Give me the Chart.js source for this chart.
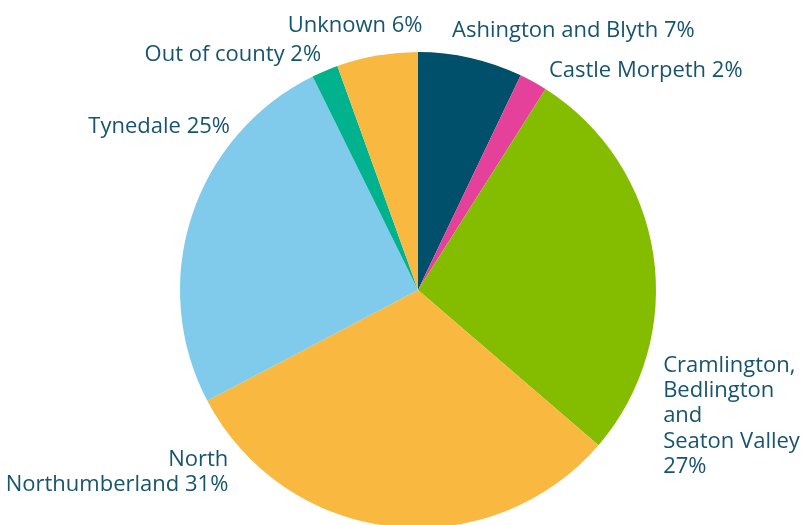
<!DOCTYPE html>
<html lang="en">
<head>
  <meta charset="UTF-8">
  <title>Pie chart by locality</title>
  <script src="https://cdn.jsdelivr.net/npm/chart.js"></script>
  <style>
    html, body { margin: 0; padding: 0; background: #fff; overflow: hidden; }
    #wrap { width: 812px; height: 525px; overflow: hidden; }
  </style>
</head>
<body>
  <div id="wrap">
    <canvas id="grafico" width="812" height="560"></canvas>
  </div>

  <script>
    // Datos
    const categorias = [
      'Ashington and Blyth',
      'Castle Morpeth',
      'Cramlington, Bedlington and Seaton Valley',
      'North Northumberland',
      'Tynedale',
      'Out of county',
      'Unknown'
    ];
    const valores = [7.1, 1.9, 27.3, 31.0, 25.4, 1.8, 5.5];
    const etiquetas = [
      ['Ashington and Blyth 7%'],
      ['Castle Morpeth 2%'],
      ['Cramlington,', 'Bedlington', 'and', 'Seaton Valley', '27%'],
      ['North', 'Northumberland 31%'],
      ['Tynedale 25%'],
      ['Out of county 2%'],
      ['Unknown 6%']
    ];
    const colores = ['#004f6b', '#e6419a', '#84bd00', '#f9b83f', '#80cbeb', '#00b28d', '#f9b83f'];

    // posicion de cada etiqueta, relativa al centro del pastel (en radios)
    // [x, y de la primera linea base, alineacion]
    const posEtiquetas = [
      [0.143, -1.062, 'left'],
      [0.550, -0.897, 'left'],
      [1.030, 0.343, 'left'],
      [-0.797, 0.739, 'right'],
      [-0.790, -0.658, 'right'],
      [-0.407, -0.963, 'right'],
      [0.019, -1.085, 'right']
    ];

    const etiquetasPlugin = {
      id: 'etiquetas',
      afterDatasetsDraw(chart) {
        const ctx = chart.ctx;
        const arcs = chart.getDatasetMeta(0).data;
        ctx.save();
        ctx.font = '22px "Open Sans", sans-serif';
        ctx.fillStyle = '#17546e';
        ctx.textBaseline = 'alphabetic';
        arcs.forEach((arc, i) => {
          const r = arc.outerRadius;
          const p = posEtiquetas[i];
          const x = arc.x + p[0] * r;
          const y = arc.y + p[1] * r;
          ctx.textAlign = p[2];
          etiquetas[i].forEach((linea, j) => {
            ctx.fillText(linea, x, y + j * 25.3);
          });
        });
        ctx.restore();
      }
    };

    new Chart(document.getElementById('grafico'), {
      type: 'pie',
      data: {
        labels: categorias,
        datasets: [{
          data: valores,
          backgroundColor: colores,
          borderWidth: 0
        }]
      },
      options: {
        responsive: false,
        animation: false,
        layout: {
          padding: { top: 52, left: 180, right: 156, bottom: 32 }
        },
        plugins: {
          legend: { display: false },
          tooltip: { enabled: false }
        }
      },
      plugins: [etiquetasPlugin]
    });
  </script>
</body>
</html>
